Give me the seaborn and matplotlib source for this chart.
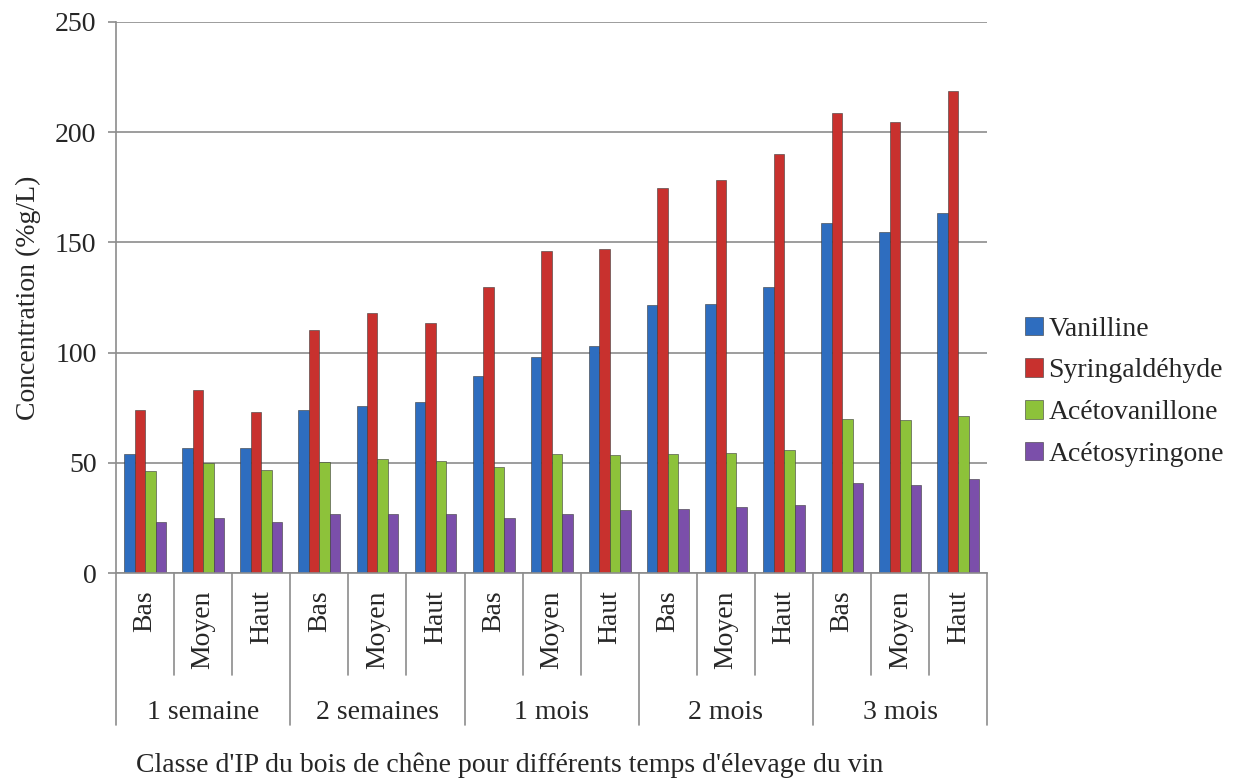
import pandas as pd
import matplotlib.pyplot as plt
import seaborn as sns

# values
temps = ['1 semaine', '2 semaines', '1 mois', '2 mois', '3 mois']
classes = ['Bas', 'Moyen', 'Haut']
composes = ['Vanilline', 'Syringaldéhyde', 'Acétovanillone', 'Acétosyringone']

vanilline = [54, 57, 57, 74, 76, 77.5, 89.5, 98, 103, 121.5, 122, 130, 159, 154.5, 163.5]
syringal = [74, 83, 73, 110.5, 118, 113.5, 130, 146, 147, 174.5, 178.5, 190, 208.5, 204.5, 218.5]
acetovan = [46.5, 50, 47, 50.5, 52, 51, 48, 54, 53.5, 54, 54.5, 56, 70, 69.5, 71.5]
acetosyr = [23, 25, 23, 27, 27, 27, 25, 27, 28.5, 29, 30, 31, 41, 40, 42.5]

couleurs = ['#2E6DBF', '#C8312E', '#8DC23A', '#7B4FAA']

cats = [t + ' ' + c for t in temps for c in classes]
rows = []
for nom, vals in zip(composes, [vanilline, syringal, acetovan, acetosyr]):
    for cat, v in zip(cats, vals):
        rows.append({'cat': cat, 'compose': nom, 'val': v})
df = pd.DataFrame(rows)

sns.set_style('white')
plt.rcParams['font.family'] = ['Liberation Serif', 'DejaVu Serif']
FS = 20

fig = plt.figure(figsize=(12.53, 7.82), dpi=100)
ax = fig.add_axes([0.0926, 0.267, 0.6954, 0.705])

sns.barplot(data=df, x='cat', y='val', hue='compose', order=cats,
            hue_order=composes, palette=couleurs, saturation=1, width=0.72, gap=0,
            edgecolor='#3a3a3a', linewidth=0.4, ax=ax, errorbar=None)

ax.set_ylim(0, 250)
ax.set_xlim(-0.5, len(cats) - 0.5)
ax.set_yticks(range(0, 251, 50))
ax.tick_params(axis='y', labelsize=FS, length=6, width=1.2, color='#8c8c8c', left=True, pad=8)
ax.set_xticks([])
ax.set_xlabel('')
ax.set_ylabel('Concentration (%g/L)', fontsize=FS, labelpad=10)
ax.yaxis.grid(True, color='#8c8c8c', linewidth=1.2)
ax.set_axisbelow(True)
for s in ['top', 'right']:
    ax.spines[s].set_visible(False)
for s in ['left', 'bottom']:
    ax.spines[s].set_color('#8c8c8c')
    ax.spines[s].set_linewidth(1.2)

# two level category axis
tr = ax.get_xaxis_transform()
for k in range(len(cats) + 1):
    x = k - 0.5
    y_end = -0.276 if k % 3 == 0 else -0.185
    ax.plot([x, x], [0, y_end], transform=tr, color='#8c8c8c', lw=1.2, clip_on=False)
for i, cat in enumerate(cats):
    ax.text(i, -0.031, classes[i % 3], transform=tr, rotation=90, ha='center',
            va='top', fontsize=FS)
for g, t in enumerate(temps):
    ax.text(g * 3 + 1, -0.252, t, transform=tr, ha='center', va='center', fontsize=FS)

fig.text(510 / 1253, 1 - 765 / 782, "Classe d'IP du bois de chêne pour différents temps d'élevage du vin",
         ha='center', va='center', fontsize=FS)

ax.legend(loc='center left', bbox_to_anchor=(1000 / 1253, 0.499),
          bbox_transform=fig.transFigure, frameon=False, fontsize=FS,
          handlelength=0.65, handleheight=0.65, handletextpad=0.2, labelspacing=0.6, title=None)

fig.savefig('out.png', dpi=100)
